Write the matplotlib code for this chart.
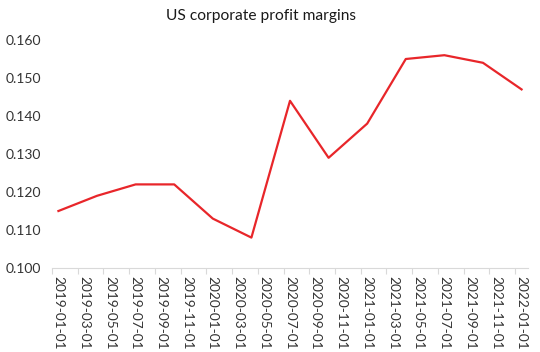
import matplotlib
matplotlib.use("Agg")
import matplotlib.pyplot as plt

dates = ["2019-01-01", "2019-04-01", "2019-07-01", "2019-10-01",
         "2020-01-01", "2020-04-01", "2020-07-01", "2020-10-01",
         "2021-01-01", "2021-04-01", "2021-07-01", "2021-10-01",
         "2022-01-01"]
margins = [0.115, 0.119, 0.122, 0.122, 0.113, 0.108, 0.144, 0.129,
           0.138, 0.155, 0.156, 0.154, 0.147]
tick_labels = ["2019-01-01", "2019-03-01", "2019-05-01", "2019-07-01",
               "2019-09-01", "2019-11-01", "2020-01-01", "2020-03-01",
               "2020-05-01", "2020-07-01", "2020-09-01", "2020-11-01",
               "2021-01-01", "2021-03-01", "2021-05-01", "2021-07-01",
               "2021-09-01", "2021-11-01", "2022-01-01"]
y_ticks = [0.100, 0.110, 0.120, 0.130, 0.140, 0.150, 0.160]

def month_index(s):
    y, m, _ = s.split("-")
    return (int(y) - 2019) * 12 + int(m) - 1

plt.rcParams['font.family'] = ['Lato', 'DejaVu Sans']
text_color = '#333333'

fig = plt.figure(figsize=(5.4, 3.52), dpi=100)
ax = fig.add_axes([52/540, 84/352, (528-52)/540, (268-40)/352])

x = [month_index(d) + 0.5 for d in dates]
ax.plot(x, margins, color='#E8262A', linewidth=1.6)

ax.set_xlim(0, 37)
ax.set_ylim(0.100, 0.160)

tx = [month_index(t) + 0.5 for t in tick_labels]
ax.set_xticks(tx)
ax.set_xticklabels(tick_labels, rotation=270, fontsize=9.8, color=text_color)
ax.tick_params(axis='x', length=0, pad=6)
ax.set_xticks([month_index(t) for t in tick_labels], minor=True)
ax.tick_params(axis='x', which='minor', length=4, color='#D9D9D9', width=0.8)

ax.set_yticks(y_ticks)
ax.set_yticklabels([f"{v:.3f}" for v in y_ticks], fontsize=10, color=text_color)
ax.tick_params(axis='y', length=0, pad=8)

for s in ['top', 'right', 'left']:
    ax.spines[s].set_visible(False)
ax.spines['bottom'].set_color('#D9D9D9')
ax.spines['bottom'].set_linewidth(0.8)

fig.text(261/540, 1 - 16/352, "US corporate profit margins", ha='center', va='center',
         fontsize=11.2, color='#1a1a1a')

fig.savefig("out.png", dpi=100, facecolor='white')
